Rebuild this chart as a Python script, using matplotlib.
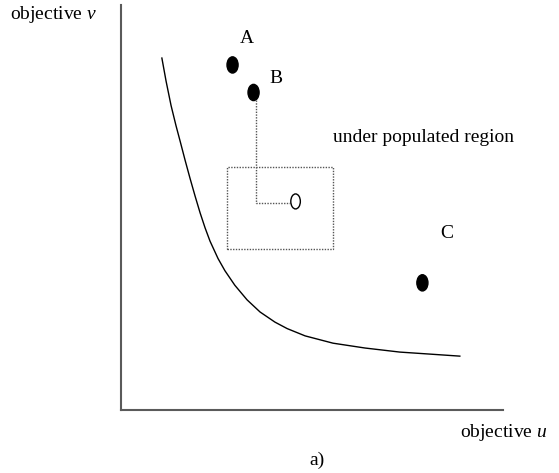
import matplotlib
matplotlib.use("Agg")
import matplotlib.pyplot as plt
from matplotlib.patches import Ellipse, Rectangle

plt.rcParams["font.family"] = ["Liberation Serif", "DejaVu Serif"]
plt.rcParams["mathtext.fontset"] = "custom"
plt.rcParams["mathtext.rm"] = "Liberation Serif"
plt.rcParams["mathtext.it"] = "Liberation Serif:italic"

# trade-off front (objective u, objective v)
front_u = [1.07, 1.18, 1.31, 1.44, 1.55, 1.68, 1.81, 1.94, 2.07, 2.20, 2.33, 2.54,
           2.72, 2.98, 3.30, 3.64, 4.03, 4.35, 4.82, 5.55, 6.39, 7.30, 8.09, 8.87]
front_v = [8.69, 8.12, 7.52, 7.02, 6.63, 6.16, 5.71, 5.28, 4.87, 4.50, 4.17, 3.74,
           3.44, 3.08, 2.72, 2.42, 2.17, 2.01, 1.83, 1.65, 1.53, 1.43, 1.38, 1.33]

# solutions
sol_names = ["A", "B", "C"]
sol_u = [2.92, 3.47, 7.89]
sol_v = [8.52, 7.84, 3.14]

# new (open) solution and its neighbourhood box
new_u, new_v = 4.57, 5.15
box_u = [2.77, 5.55]
box_v = [3.98, 5.99]

# dotted link from B to the new solution
link_u = [3.53, 3.53, 4.42]
link_v = [7.65, 5.10, 5.10]

W, H = 559, 473
fig = plt.figure(figsize=(W / 100, H / 100), dpi=100)
ax = fig.add_axes([121 / W, 63 / H, 382 / W, 405 / H])
ax.set_xlim(0, 10)
ax.set_ylim(0, 10)
ax.set_xticks([])
ax.set_yticks([])
for s in ["top", "right"]:
    ax.spines[s].set_visible(False)
for s in ["left", "bottom"]:
    ax.spines[s].set_color("#5a5a5a")
    ax.spines[s].set_linewidth(1.5)

ax.plot(front_u, front_v, color="black", lw=1.0)

for u, v in zip(sol_u, sol_v):
    ax.add_patch(Ellipse((u, v), 0.29, 0.40, facecolor="black", edgecolor="black"))

ax.add_patch(Rectangle((box_u[0], box_v[0]), box_u[1] - box_u[0], box_v[1] - box_v[0],
                       fill=False, edgecolor="#555555", lw=1.0, linestyle=(0, (1, 1))))
ax.plot(link_u, link_v, color="#555555", lw=1.0, linestyle=(0, (1, 1)))
ax.add_patch(Ellipse((new_u, new_v), 0.25, 0.37, facecolor="white",
                     edgecolor="black", lw=1.0, zorder=3))

def ftext(x, y, s, size=14, **kw):
    fig.text(x / W, 1 - y / H, s, fontsize=size, **kw)

ftext(10, 19, "objective $v$", ha="left", va="baseline")
ftext(460, 437, "objective $u$", ha="left", va="baseline")
ftext(333, 142, "under populated region", ha="left", va="baseline")
label_pos = {"A": (246.5, 43), "B": (276, 83), "C": (447, 238)}
for n in sol_names:
    x, y = label_pos[n]
    ftext(x, y, n, ha="center", va="baseline")
ftext(317, 465, "a)", ha="center", va="baseline")

fig.savefig("out.png", dpi=100)
